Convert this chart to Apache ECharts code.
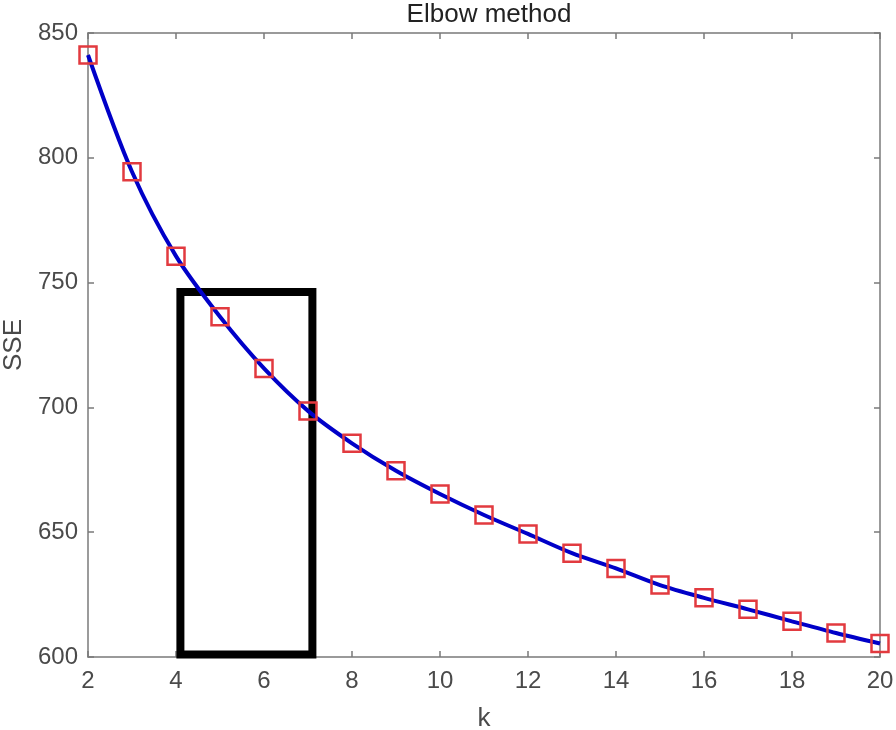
<!DOCTYPE html>
<html>
<head>
<meta charset="utf-8">
<script src="https://cdn.jsdelivr.net/npm/echarts@6/dist/echarts.min.js"></script>
<style>html,body{margin:0;padding:0;background:#fff}#c{width:896px;height:730px}</style>
</head>
<body>
<div id="c"></div>
<script>
const kValues = [2,3,4,5,6,7,8,9,10,11,12,13,14,15,16,17,18,19,20];
const sseValues = [841.2,794.4,760.6,736.3,715.6,698.6,685.6,674.6,665.3,656.9,649.3,641.6,635.5,628.8,623.7,619.1,614.3,609.6,605.4];
const boxK = [4.1,4.1,7.1,7.1,4.1];
const boxSSE = [601,746.2,746.2,601,601];
const xTicks = {min:2,max:20,interval:2};
const yTicks = {min:600,max:850,interval:50};

const FONT = 'Liberation Sans, Arial, Helvetica, sans-serif';
const axisGray = '#7a7a7a';
const labelGray = '#4a4a4a';

const chart = echarts.init(document.getElementById('c'), null, {renderer:'canvas'});
const curve = kValues.map((k,i)=>[k,sseValues[i]]);
const box = boxK.map((k,i)=>[k,boxSSE[i]]);

function xAx(pos, showLabel){
  return {
    type:'value', position:pos, min:xTicks.min, max:xTicks.max, interval:xTicks.interval,
    axisLine:{show:true,onZero:false,lineStyle:{color:axisGray,width:1.5}},
    axisTick:{show:true,inside:true,length:6,lineStyle:{color:axisGray,width:1.5}},
    axisLabel:{show:showLabel,color:labelGray,fontSize:24,fontFamily:FONT,margin:12},
    splitLine:{show:false},
    name: showLabel ? 'k' : '', nameLocation:'middle', nameGap:49,
    nameTextStyle:{color:labelGray,fontSize:26,fontFamily:FONT}
  };
}
function yAx(pos, showLabel){
  return {
    type:'value', position:pos, min:yTicks.min, max:yTicks.max, interval:yTicks.interval,
    axisLine:{show:true,onZero:false,lineStyle:{color:axisGray,width:1.5}},
    axisTick:{show:true,inside:true,length:6,lineStyle:{color:axisGray,width:1.5}},
    axisLabel:{show:showLabel,color:labelGray,fontSize:24,fontFamily:FONT,margin:10},
    splitLine:{show:false},
    name: showLabel ? 'SSE' : '', nameLocation:'middle', nameGap:57,
    nameTextStyle:{color:labelGray,fontSize:26,fontFamily:FONT}
  };
}

chart.setOption({
  backgroundColor:'#fff',
  animation:false,
  title:{text:'Elbow method', left:484, top:-3, textAlign:'center',
    textStyle:{color:'#222',fontSize:26,fontWeight:'normal',fontFamily:FONT}},
  grid:{left:88,right:16,top:33,bottom:73,containLabel:false,outerBoundsMode:'none'},
  xAxis:[xAx('bottom',true), xAx('top',false)],
  yAxis:[yAx('left',true), yAx('right',false)],
  series:[
    {type:'line', data:box, xAxisIndex:0, yAxisIndex:0, symbol:'none', z:1,
      lineStyle:{color:'#000',width:8,join:'miter',cap:'square'}},
    {type:'line', data:curve, xAxisIndex:0, yAxisIndex:0, smooth:0.3, z:2,
      symbol:'rect', symbolSize:17,
      lineStyle:{color:'#0000c8',width:4},
      itemStyle:{color:'rgba(255,255,255,0)',borderColor:'#e23a3f',borderWidth:2.5}}
  ]
});
</script>
</body>
</html>
